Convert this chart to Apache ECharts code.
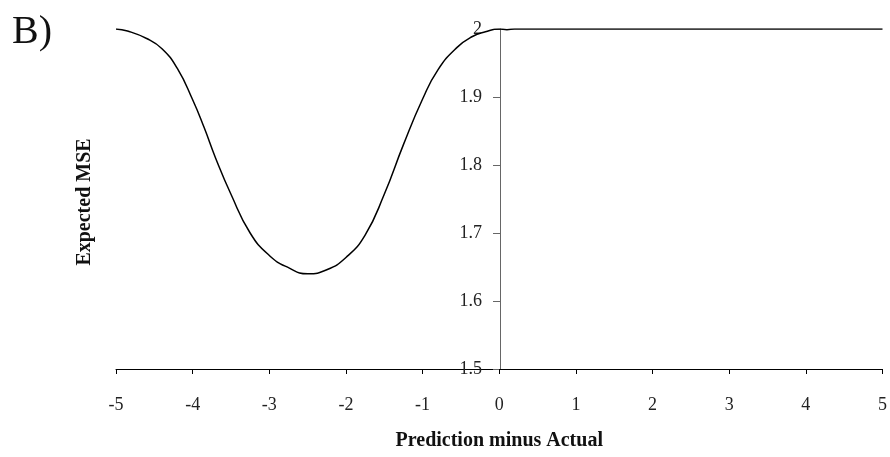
<!DOCTYPE html>
<html>
<head>
<meta charset="utf-8">
<script src="https://cdn.jsdelivr.net/npm/echarts@6/dist/echarts.min.js"></script>
<style>
  html, body { margin: 0; padding: 0; background: #fff; }
  #chart { width: 890px; height: 457px; }
</style>
</head>
<body>
<div id="chart"></div>
<script>
// prediction minus actual
const xValues = [-5, -4.85, -4.6, -4.4, -4.2, -4, -3.85, -3.7, -3.5, -3.25, -3, -2.75, -2.5,
  -2.25, -2, -1.75, -1.5, -1.25, -1, -0.8, -0.55, -0.35, -0.18, 0,
  0.1, 0.2, 0.5, 1, 1.5, 2, 2.5, 3, 3.5, 4, 4.5, 5];
// expected MSE
const mseValues = [2.0, 1.997, 1.986, 1.971, 1.942, 1.896, 1.855, 1.810, 1.757, 1.700, 1.667, 1.649, 1.640,
  1.646, 1.664, 1.697, 1.757, 1.830, 1.897, 1.940, 1.973, 1.989, 1.996, 2.0,
  1.999, 2.0, 2.0, 2.0, 2.0, 2.0, 2.0, 2.0, 2.0, 2.0, 2.0, 2.0];

const fontFamily = '"Liberation Serif", "DejaVu Serif", serif';

const chart = echarts.init(document.getElementById("chart"));

const option = {
  animation: false,
  backgroundColor: "#fff",
  textStyle: { fontFamily: fontFamily },
  title: {
    text: "B)",
    left: 7,
    top: 7,
    textStyle: { fontFamily: fontFamily, fontSize: 40, fontWeight: "normal", color: "#111" },
  },
  graphic: [
    {
      type: "text",
      x: 85,
      y: 202,
      rotation: Math.PI / 2,
      style: {
        text: "Expected MSE",
        font: 'bold 20px "Liberation Serif", serif',
        fill: "#111",
        align: "center",
        verticalAlign: "middle",
      },
    },
  ],
  grid: {
    left: 116,
    right: 6,
    top: 29,
    bottom: 88,
  },
  xAxis: {
    type: "value",
    min: -5,
    max: 5,
    interval: 1,
    name: "Prediction minus Actual",
    nameLocation: "middle",
    nameGap: 62,
    nameTextStyle: { fontFamily: fontFamily, fontSize: 20, fontWeight: "bold", color: "#111" },
    axisLine: { onZero: false, lineStyle: { color: "#000", width: 1 } },
    axisTick: { length: 5, lineStyle: { color: "#000" } },
    axisLabel: { margin: 27, fontSize: 18, color: "#222" },
    splitLine: { show: false },
  },
  yAxis: {
    type: "value",
    min: 1.5,
    max: 2,
    interval: 0.1,
    position: "left",
    offset: -384,
    axisLine: { show: true, onZero: false, lineStyle: { color: "#666", width: 1 } },
    axisTick: { show: true, length: 7, lineStyle: { color: "#666" } },
    axisLabel: {
      margin: 18,
      fontSize: 18,
      color: "#222",
      formatter: (v) => (Math.abs(v - 2) < 1e-9 ? "2" : v.toFixed(1)),
    },
    splitLine: { show: false },
  },
  series: [
    {
      type: "line",
      data: xValues.map((x, i) => [x, mseValues[i]]),
      smooth: 0.5,
      showSymbol: false,
      lineStyle: { color: "#000", width: 1.5 },
    },
  ],
};

chart.setOption(option);
</script>
</body>
</html>
